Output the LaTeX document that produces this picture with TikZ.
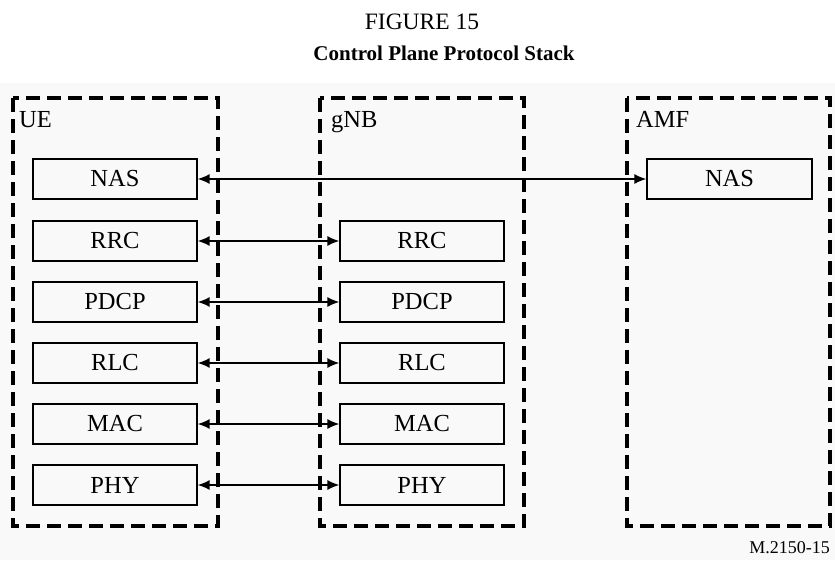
\documentclass[tikz,border=0pt]{standalone}
\usepackage{fontspec}
\setmainfont{Liberation Serif}
\usetikzlibrary{arrows.meta}
\definecolor{panelgray}{RGB}{249,249,249}
\tikzset{
  layer/.style={draw, line width=1.2pt, minimum width=164pt, minimum height=40pt,
    inner sep=0pt, font=\fontsize{24.5}{28}\selectfont},
  entity/.style={line width=3.5pt, dash pattern=on 14pt off 7pt},
  tag/.style={anchor=base west, inner sep=0pt, font=\fontsize{24.5}{28}\selectfont},
  link/.style={{Latex[length=12pt,width=10pt]}-{Latex[length=12pt,width=10pt]}, line width=1.6pt},
}

\begin{document}
\begin{tikzpicture}[x=1pt,y=-1pt]
    \useasboundingbox (0,0) rectangle (835,560);
    \fill[panelgray] (0,83) rectangle (835,560);
    \node[anchor=base, inner sep=0pt, font=\fontsize{23.5}{28}\selectfont] (fignum) at (422,29) {FIGURE 15};
    \node[anchor=base, inner sep=0pt, font=\fontsize{21}{25}\selectfont\bfseries] (figtitle) at (444,60) {Control Plane Protocol Stack};
    % entities
    \draw[entity] (13,98) rectangle (218,526);
    \draw[entity] (320,98) rectangle (524,526);
    \draw[entity] (627,98) rectangle (830,526);
    \node[tag] (ue) at (19,127) {UE};
    \node[tag] (gnb) at (331,127) {gNB};
    \node[tag] (amf) at (636,127) {AMF};
    % UE stack
    \node[layer] (uenas) at (115,179) {NAS};
    \node[layer] (uerrc) at (115,241) {RRC};
    \node[layer] (uepdcp) at (115,302) {PDCP};
    \node[layer] (uerlc) at (115,363) {RLC};
    \node[layer] (uemac) at (115,424) {MAC};
    \node[layer] (uephy) at (115,485) {PHY};
    % gNB stack
    \node[layer] (gnbrrc) at (422,241) {RRC};
    \node[layer] (gnbpdcp) at (422,302) {PDCP};
    \node[layer] (gnbrlc) at (422,363) {RLC};
    \node[layer] (gnbmac) at (422,424) {MAC};
    \node[layer] (gnbphy) at (422,485) {PHY};
    % AMF stack
    \node[layer, minimum width=165pt] (amfnas) at (729.5,179) {NAS};
    % peer links
    \draw[link] (uenas) -- (amfnas);
    \draw[link] (uerrc) -- (gnbrrc);
    \draw[link] (uepdcp) -- (gnbpdcp);
    \draw[link] (uerlc) -- (gnbrlc);
    \draw[link] (uemac) -- (gnbmac);
    \draw[link] (uephy) -- (gnbphy);
    \node[anchor=base east, inner sep=0pt, font=\fontsize{18}{22}\selectfont] (figref) at (830,553) {M.2150-15};
\end{tikzpicture}
\end{document}
